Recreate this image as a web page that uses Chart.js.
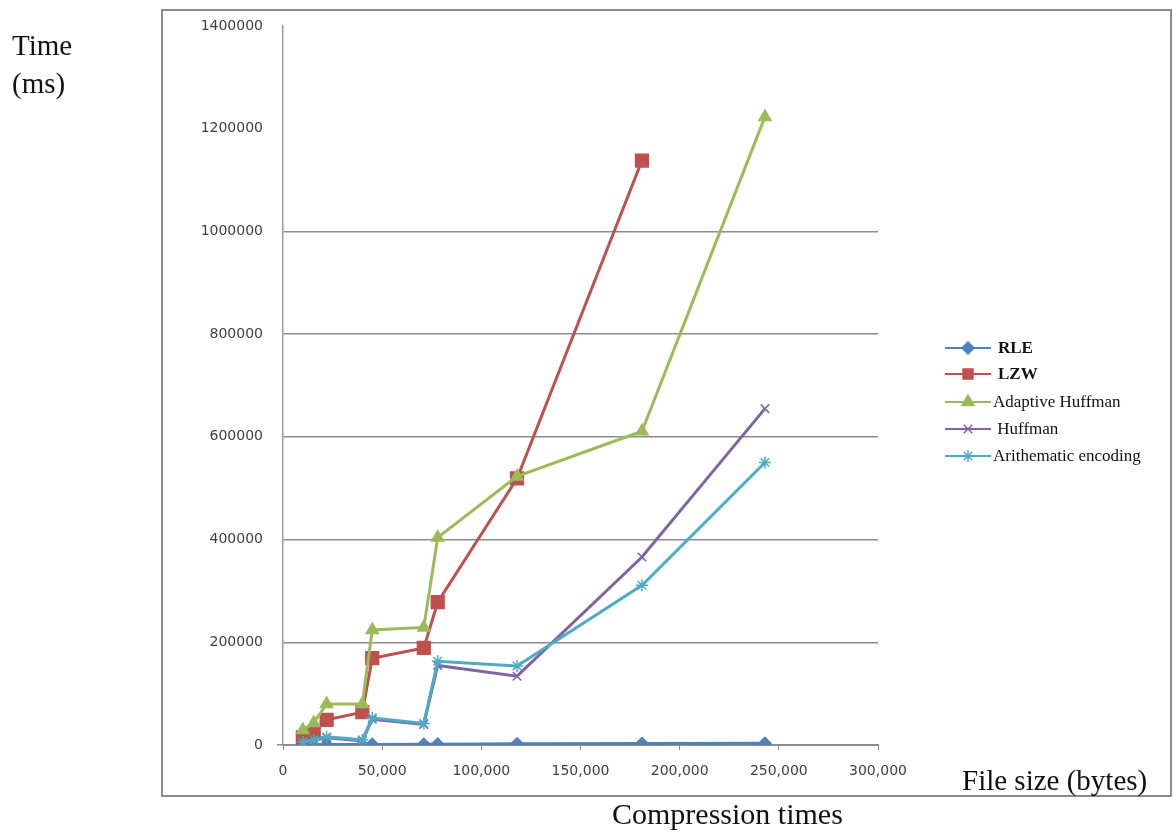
<!DOCTYPE html>
<html>
<head>
<meta charset="utf-8">
<script src="https://cdn.jsdelivr.net/npm/chart.js@4/dist/chart.umd.min.js"></script>
<style>
  body { margin: 0; background: #fff; overflow: hidden; }
  #wrap { position: relative; width: 1173px; height: 836px; }
  #frame { position: absolute; left: 161px; top: 9px; width: 1007px; height: 784px; border: 2px solid #8c8c8c; }
  canvas { position: absolute; left: 0; top: 0; }
  .lbl { position: absolute; font-family: "Liberation Serif", serif; color: #111; white-space: nowrap; }
</style>
</head>
<body>
<div id="wrap">
  <div id="frame"></div>
  <canvas id="chart" width="1173" height="836"></canvas>
  <div class="lbl" style="left:12px; top:26px; font-size:29px; line-height:38px;">Time<br>(ms)</div>
  <div class="lbl" style="left:962px; top:764px; font-size:29px;">File size (bytes)</div>
  <div class="lbl" style="left:612px; top:797px; font-size:30px;">Compression times</div>
</div>
<script>
// file sizes (bytes)
const fileSizes = [10000, 15500, 22000, 40000, 45000, 71000, 78000, 118000, 181000, 243000];

// compression time (ms)
const rle = [400, 600, 800, 1000, 1200, 1500, 1700, 2200, 3000, 3500];
const lzw = [15000, 23000, 49000, 64000, 169000, 189000, 278000, 519000, 1138000, null];
const adaptiveHuffman = [29000, 43000, 80000, 80000, 224000, 229000, 404000, 523000, 611000, 1223000];
const huffman = [5000, 9000, 14000, 8000, 50000, 40000, 155000, 134000, 366000, 655000];
const arithmetic = [6000, 10000, 16000, 10000, 53000, 42000, 163000, 154000, 311000, 550000];

const seriesNames = ["RLE", "LZW", "Adaptive Huffman", " Huffman", "Arithematic encoding"];
const boldNames = ["RLE", "LZW"];

function pts(vals) {
  return fileSizes.map((x, i) => ({ x: x, y: vals[i] })).filter(p => p.y !== null);
}

const legendPlugin = {
  id: "sideLegend",
  afterDraw(chart) {
    const ctx = chart.ctx;
    const rows = [348, 374, 402, 429, 456];
    chart.data.datasets.forEach((ds, i) => {
      const y = rows[i];
      ctx.save();
      ctx.strokeStyle = ds.borderColor;
      ctx.lineWidth = 2;
      ctx.beginPath();
      ctx.moveTo(945, y);
      ctx.lineTo(991, y);
      ctx.stroke();
      ctx.fillStyle = ds.pointBackgroundColor;
      ctx.strokeStyle = ds.pointBorderColor;
      ctx.lineWidth = 1.5;
      Chart.helpers.drawPoint(ctx, {
        pointStyle: ds.pointStyle,
        radius: Math.min(ds.pointRadius, 7),
        rotation: 0,
        borderWidth: 1.5
      }, 968, y);
      ctx.fillStyle = "#111";
      const bold = boldNames.includes(ds.label) ? "bold " : "";
      ctx.font = bold + "17px 'Liberation Serif', serif";
      ctx.textBaseline = "middle";
      ctx.fillText(ds.label, bold ? 998 : 993, y + 1);
      ctx.restore();
    });
  }
};

function series(label, vals, color, style, radius, order) {
  return {
    label: label,
    data: pts(vals),
    borderColor: color,
    backgroundColor: color,
    pointBackgroundColor: color,
    pointBorderColor: color,
    pointStyle: style,
    pointRadius: radius,
    pointBorderWidth: 1.5,
    borderWidth: 3,
    order: order
  };
}

new Chart(document.getElementById("chart"), {
  type: "line",
  data: {
    datasets: [
      series(seriesNames[0], rle, "#4F81BD", "rectRot", 6, 5),
      series(seriesNames[1], lzw, "#C0504D", "rect", 9, 4),
      series(seriesNames[2], adaptiveHuffman, "#9BBB59", "triangle", 7, 3),
      series(seriesNames[3], huffman, "#8064A2", "crossRot", 6, 2),
      series(seriesNames[4], arithmetic, "#4BACC6", "star", 6, 1)
    ]
  },
  options: {
    responsive: false,
    animation: false,
    layout: { padding: { left: 0, top: 26, right: 295, bottom: 0 } },
    plugins: {
      legend: { display: false },
      tooltip: { enabled: false }
    },
    scales: {
      x: {
        type: "linear",
        min: 0,
        max: 300000,
        ticks: {
          stepSize: 50000,
          color: "#404040",
          padding: 13,
          font: { family: "'DejaVu Sans', sans-serif", size: 14 },
          callback: v => v.toLocaleString("en-US")
        },
        grid: { drawOnChartArea: false, tickLength: 5, color: "#8c8c8c" },
        border: { color: "#8c8c8c", width: 2 },
        afterFit(s) { s.height = 91; }
      },
      y: {
        min: 0,
        max: 1400000,
        ticks: {
          stepSize: 200000,
          color: "#404040",
          padding: 14,
          font: { family: "'DejaVu Sans', sans-serif", size: 14 },
          callback: v => String(v)
        },
        grid: {
          color: c => (c.tick && c.tick.value > 1000000) ? "rgba(0,0,0,0)" : "#8c8c8c",
          tickColor: c => (c.tick && c.tick.value === 0) ? "#8c8c8c" : "rgba(0,0,0,0)",
          tickLength: 6,
          lineWidth: 1.5
        },
        border: { color: "#9a9a9a", width: 1.5 },
        afterFit(s) { s.width = 283; }
      }
    }
  },
  plugins: [legendPlugin]
});
</script>
</body>
</html>
